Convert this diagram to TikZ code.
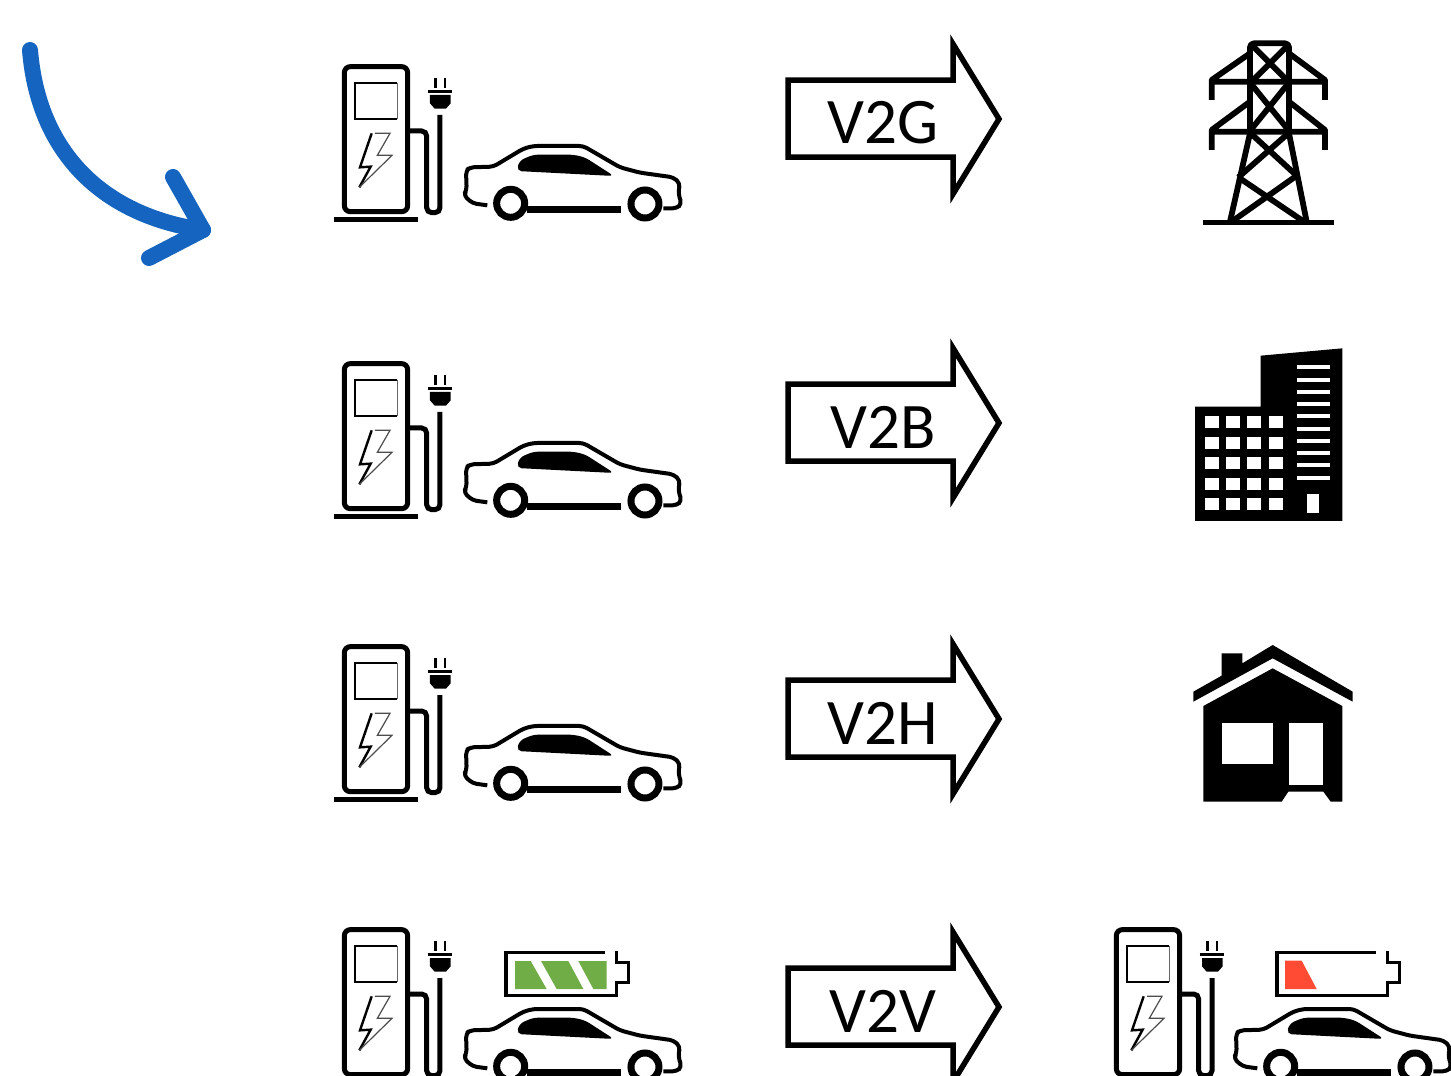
\documentclass[tikz,border=0pt]{standalone}
\usepackage{fontspec}
\setmainfont{Carlito}
\definecolor{curveblue}{HTML}{1565C0}
\definecolor{batgreen}{HTML}{70AD47}
\definecolor{batred}{HTML}{FF4B33}
\tikzset{
  zoomed/.style={x=0.3333pt,y=-0.3333pt},
  heavy/.style={line width=5pt},
  pics/charger/.style={code={
    \begin{scope}[zoomed]
      \draw[heavy,rounded corners=6pt] (73,485) -- (73,50) -- (263,50) -- (263,485) -- cycle;
      \draw[line width=5pt] (42,508) -- (293,508);
      \draw[line width=2.2pt] (232,98) -- (105,98) -- (105,208) -- (232,208);
      \draw[line width=1.6pt,black!60] (232,98) -- (232,208);
      % bolt, dark on the left and thin on the right
      \draw[line width=2.4pt,line join=miter] (155,250) -- (120,352) -- (152,350) -- (118,412);
      \draw[line width=1.2pt,black!70] (165,250) -- (210,250) -- (172,316) -- (216,316) -- (118,412);
      % cable and plug
      \draw[heavy,rounded corners=5pt] (263,243) -- (320,243) -- (320,488) -- (360,488) -- (360,195);
      \fill (330,135) -- (392,135) -- (392,160) -- (378,176) -- (344,176) -- (330,160) -- cycle;
      \draw[line width=2.5pt] (323,125) -- (397,125);
      \draw[line width=2.5pt] (346,85) -- (346,113) (375,85) -- (375,113);
    \end{scope}}},
  pics/car/.style={code={
    \begin{scope}[zoomed]
      \draw[line width=4pt,line join=round,rounded corners=4pt]
        (502,466) -- (458,460) -- (431,436) -- (440,420) -- (438,362) -- (450,352) -- (520,350)
        -- (610,296) -- (640,288) -- (790,288) -- (900,352) -- (960,368) -- (1060,382)
        -- (1080,400) -- (1075,430) -- (1085,462) -- (1070,475) -- (1030,475);
      \fill[rounded corners=5pt] (590,363) -- (598,332) -- (640,314) -- (760,314) -- (795,322)
        -- (882,378) -- cycle;
      \draw[line width=7pt] (620,480) -- (903,480);
      \draw[line width=7pt,fill=white] (572,460) circle[radius=42];
      \draw[line width=7pt,fill=white] (975,462) circle[radius=42];
    \end{scope}}},
  pics/batteryframe/.style={code={
    \begin{scope}[zoomed]
      \draw[line width=3.6pt] (435,67) -- (138,67) -- (138,197) -- (470,197) -- (470,158)
        -- (505,158) -- (505,98) -- (470,98) -- (470,62);
    \end{scope}}},
  pics/tower/.style={code={
    \begin{scope}[zoomed,line width=5.8pt,line join=round]
      \draw[rounded corners=4pt] (210,310) -- (210,40) -- (327,40) -- (327,310);
      \draw (210,310) -- (150,575) (327,310) -- (380,575);
      \draw[line width=5.6pt] (70,578) -- (462,578);
      \foreach \ya/\yb in {70/155,215/305}
        \draw (210,\ya) -- (95,\yb-5) -- (95,\yb+55) (95,\yb) -- (435,\yb)
              (327,\ya) -- (435,\yb-5) -- (435,\yb+55);
      \draw (215,45) -- (325,155) (325,45) -- (215,155);
      \draw (212,160) -- (325,300) (325,160) -- (212,300);
      \draw (212,310) -- (350,437) (325,310) -- (175,442);
      \draw (175,442) -- (372,575) (350,437) -- (155,575);
    \end{scope}}},
  pics/building/.style={code={
    \begin{scope}[zoomed]
      \fill (45,200) -- (242,200) -- (242,47) -- (487,25) -- (487,543) -- (45,543) -- cycle;
      \foreach \cx in {95,160,222,288}
        \foreach \cy in {247,308,370,432,492}
          \fill[white] (\cx-21,\cy-18) rectangle (\cx+21,\cy+18);
      \foreach \cy in {82,119,156,193,229,266,303,339,376,413}
        \fill[white] (352,\cy-6) rectangle (450,\cy+6);
      \fill[white] (381,462) rectangle (417,518);
    \end{scope}}},
  pics/house/.style={code={
    \begin{scope}[zoomed]
      \fill (40,170) -- (125,122) -- (125,55) -- (187,55) -- (187,85) -- (278,30) -- (518,170)
        -- (518,200) -- (278,70) -- (40,200) -- cycle;
      \fill (70,213) -- (278,100) -- (487,213) -- (487,500) -- (452,500) -- (430,470)
        -- (325,470) -- (305,500) -- (70,500) -- cycle;
      \fill[white] (125,265) rectangle (278,388);
      \fill[white] (328,265) rectangle (430,450);
    \end{scope}}}
}
\begin{document}
\begin{tikzpicture}[x=1pt,y=-1pt,
    arrowlab/.style={font=\fontsize{65}{65}\selectfont,inner sep=0pt},
    outline/.style={line width=5.5pt,miter limit=10}]
  \clip (0,0) rectangle (1451,1076);
  % blue arrow in the corner
  \coordinate (start) at (30,50);
  \coordinate (end) at (203,230);
  \draw[curveblue,line width=16pt,line cap=round] (start) .. controls (38,150) and (100,215) .. (end);
  \draw[curveblue,line width=16pt,line cap=round,line join=round]
     (173,177) -- (end) -- (149,258);
  % rows of charger and car
  \foreach \y in {50,347,630,913} {
    \pic at (320,\y) {charger};
    \pic at (320,\y) {car};
  }
  \foreach \y/\lab in {0/V2G,304/V2B,600/V2H,888/V2V} {
    \draw[outline] (788,80+\y) -- (953,80+\y) -- (953,44+\y) -- (999,119+\y) -- (953,194+\y)
      -- (953,157+\y) -- (788,157+\y) -- cycle;
    \node[arrowlab] (lab\lab) at (883,123+\y) {\lab};
  }
  % what the rows lead to
  \pic at (1180,30) {tower};
  \pic at (1180,340) {building};
  \pic at (1180,635) {house};
  % last row
  \pic at (1092,913) {charger};
  \pic at (1090,913) {car};
  \pic at (460,930) {batteryframe};
  \pic at (1231,930) {batteryframe};
  \begin{scope}[shift={(460,930)},x=0.3333pt,y=-0.3333pt]
    \fill[batgreen] (165,93) -- (212,93) -- (260,177) -- (165,177) -- cycle;
    \fill[batgreen] (243,93) -- (325,93) -- (370,177) -- (290,177) -- cycle;
    \fill[batgreen] (355,93) -- (440,93) -- (440,177) -- (400,177) -- cycle;
  \end{scope}
  \begin{scope}[shift={(1220,930)},x=0.3333pt,y=-0.3333pt]
    \fill[batred] (195,92) -- (245,92) -- (290,177) -- (195,177) -- cycle;
  \end{scope}
\end{tikzpicture}
\end{document}
